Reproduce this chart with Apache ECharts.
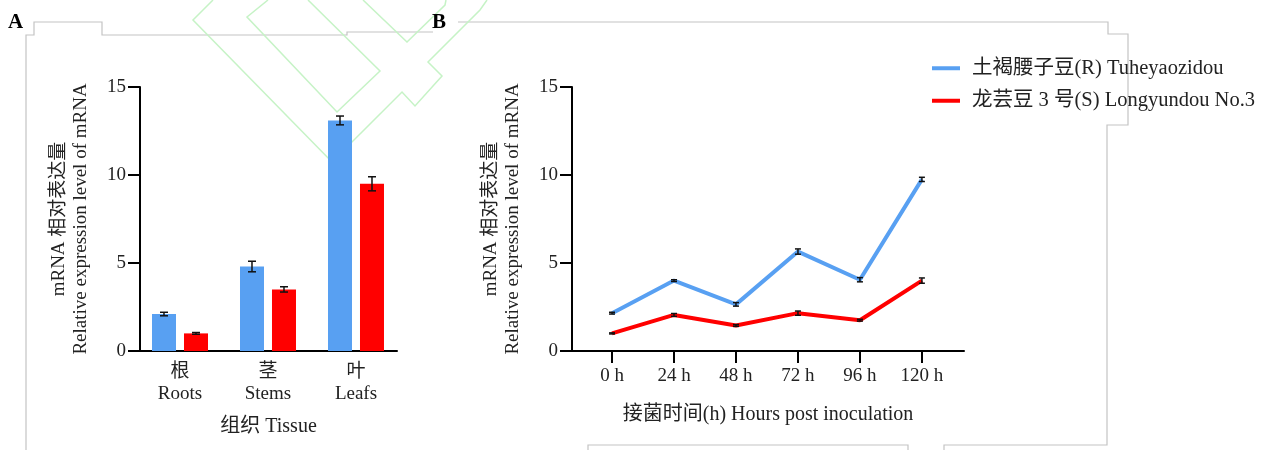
<!DOCTYPE html>
<html>
<head>
<meta charset="utf-8">
<script src="https://cdn.jsdelivr.net/npm/echarts@6/dist/echarts.min.js"></script>
<style>
  html, body { margin: 0; padding: 0; background: #fff; }
  #main { width: 1279px; height: 450px; }
</style>
</head>
<body>
<div id="main"></div>
<script>
// 组织 (A)
var tissues = ['根\nRoots', '茎\nStems', '叶\nLeafs'];
var barR = [2.1, 4.8, 13.1];
var barRErr = [0.1, 0.3, 0.25];
var barS = [1.0, 3.5, 9.5];
var barSErr = [0.05, 0.15, 0.4];

// 接菌时间 (B)
var hours = [0, 24, 48, 72, 96, 120];
var lineR = [2.15, 4.0, 2.65, 5.65, 4.05, 9.75];
var lineRErr = [0.05, 0.05, 0.1, 0.15, 0.12, 0.12];
var lineS = [1.0, 2.05, 1.45, 2.15, 1.75, 4.0];
var lineSErr = [0.03, 0.08, 0.05, 0.12, 0.05, 0.15];

var nameR = '土褐腰子豆(R) Tuheyaozidou';
var nameS = '龙芸豆 3 号(S) Longyundou No.3';

var blue = '#58a0f2';
var red = '#ff0000';
var font = '"Liberation Serif", "Noto Sans CJK SC", serif';
var txt = '#222';

var myChart = echarts.init(document.getElementById('main'));

function errBars(dx, half) {
  return function (params, api) {
    var x = api.value(0), y = api.value(1), e = api.value(2);
    var top = api.coord([x, y + e]);
    var bot = api.coord([x, y - e]);
    var cx = top[0] + dx;
    var st = { stroke: '#111', lineWidth: 1.5 };
    return {
      type: 'group',
      children: [
        { type: 'line', shape: { x1: cx, y1: top[1], x2: cx, y2: bot[1] }, style: st },
        { type: 'line', shape: { x1: cx - half, y1: top[1], x2: cx + half, y2: top[1] }, style: st },
        { type: 'line', shape: { x1: cx - half, y1: bot[1], x2: cx + half, y2: bot[1] }, style: st }
      ]
    };
  };
}

function yAx(gridIndex) {
  return {
    type: 'value', gridIndex: gridIndex, min: 0, max: 15, interval: 5,
    name: 'mRNA 相对表达量\nRelative expression level of mRNA',
    nameLocation: 'middle', nameGap: 48, nameRotate: 90,
    nameTextStyle: { fontFamily: font, fontSize: 19, color: txt, lineHeight: 22 },
    axisLine: { show: true, onZero: false, lineStyle: { color: '#000', width: 2 } },
    axisTick: { show: true, length: 12, lineStyle: { color: '#000', width: 2 } },
    axisLabel: { margin: 14, fontFamily: font, fontSize: 19, color: txt },
    splitLine: { show: false }
  };
}

var lineGray = { stroke: '#c4c4c4', lineWidth: 1.2, fill: null };
var lineGreen = { stroke: '#c6f3c6', lineWidth: 1.5, fill: null };

var option = {
  animation: false,
  backgroundColor: '#fff',
  grid: [
    { left: 140, top: 87, width: 257, height: 264 },
    { left: 572, top: 87, width: 392, height: 264 }
  ],
  legend: {
    data: [nameR, nameS],
    orient: 'vertical',
    left: 927, top: 53,
    icon: 'rect', itemWidth: 28, itemHeight: 4, itemGap: 12,
    textStyle: { fontFamily: font, fontSize: 20.5, color: txt, lineHeight: 20, padding: [0, 0, 0, 7] }
  },
  xAxis: [
    {
      type: 'value', gridIndex: 0, min: -0.4545, max: 2.466,
      name: '组织 Tissue', nameLocation: 'middle', nameGap: 66,
      nameTextStyle: { fontFamily: font, fontSize: 20, color: txt },
      axisLine: { show: true, onZero: false, lineStyle: { color: '#000', width: 2 } },
      axisTick: { show: false },
      axisLabel: {
        customValues: [0, 1, 2],
        formatter: function (v) { return tissues[Math.round(v)]; },
        margin: 10, fontFamily: font, fontSize: 19, color: txt, lineHeight: 22
      },
      splitLine: { show: false }
    },
    {
      type: 'value', gridIndex: 1, min: -15.5, max: 136.3,
      name: '接菌时间(h) Hours post inoculation', nameLocation: 'middle', nameGap: 54,
      nameTextStyle: { fontFamily: font, fontSize: 20, color: txt },
      axisLine: { show: true, onZero: false, lineStyle: { color: '#000', width: 2 } },
      axisTick: { show: true, customValues: hours, length: 12, lineStyle: { color: '#000', width: 2 } },
      axisLabel: {
        customValues: hours,
        formatter: function (v) { return v + ' h'; },
        margin: 16, fontFamily: font, fontSize: 19, color: txt
      },
      splitLine: { show: false }
    }
  ],
  yAxis: [yAx(0), yAx(1)],
  series: [
    {
      name: nameR, type: 'bar', xAxisIndex: 0, yAxisIndex: 0,
      barWidth: 24, barGap: '33.3%', itemStyle: { color: blue },
      data: barR.map(function (v, i) { return [i, v]; })
    },
    {
      name: nameS, type: 'bar', xAxisIndex: 0, yAxisIndex: 0,
      barWidth: 24, barGap: '33.3%', itemStyle: { color: red },
      data: barS.map(function (v, i) { return [i, v]; })
    },
    {
      type: 'custom', xAxisIndex: 0, yAxisIndex: 0, z: 5,
      renderItem: errBars(-16, 4), encode: { x: 0, y: 1 },
      data: barR.map(function (v, i) { return [i, v, barRErr[i]]; })
    },
    {
      type: 'custom', xAxisIndex: 0, yAxisIndex: 0, z: 5,
      renderItem: errBars(16, 4), encode: { x: 0, y: 1 },
      data: barS.map(function (v, i) { return [i, v, barSErr[i]]; })
    },
    {
      name: nameR, type: 'line', xAxisIndex: 1, yAxisIndex: 1,
      showSymbol: false, symbol: 'none', color: blue,
      lineStyle: { color: blue, width: 4 },
      data: hours.map(function (h, i) { return [h, lineR[i]]; })
    },
    {
      name: nameS, type: 'line', xAxisIndex: 1, yAxisIndex: 1,
      showSymbol: false, symbol: 'none', color: red,
      lineStyle: { color: red, width: 4 },
      data: hours.map(function (h, i) { return [h, lineS[i]]; })
    },
    {
      type: 'custom', xAxisIndex: 1, yAxisIndex: 1, z: 5,
      renderItem: errBars(0, 3), encode: { x: 0, y: 1 },
      data: hours.map(function (h, i) { return [h, lineR[i], lineRErr[i]]; })
    },
    {
      type: 'custom', xAxisIndex: 1, yAxisIndex: 1, z: 5,
      renderItem: errBars(0, 3), encode: { x: 0, y: 1 },
      data: hours.map(function (h, i) { return [h, lineS[i], lineSErr[i]]; })
    }
  ],
  graphic: [
    // panel letters
    { type: 'text', left: 8, top: 12, style: { text: 'A', font: 'bold 21px "Liberation Serif", serif', fill: '#000' } },
    { type: 'text', left: 432, top: 12, style: { text: 'B', font: 'bold 21px "Liberation Serif", serif', fill: '#000' } },
    // scanned page frame
    { type: 'polyline', silent: true, z: -10, shape: { points: [[26, 450], [26, 35], [34, 35], [34, 22], [102, 22], [102, 35], [347, 35], [347, 32], [433, 32]] }, style: lineGray },
    { type: 'polyline', silent: true, z: -10, shape: { points: [[458, 22], [1108, 22], [1108, 34], [1128, 34], [1128, 125], [1107, 125], [1107, 445], [944, 445], [944, 450]] }, style: lineGray },
    { type: 'polyline', silent: true, z: -10, shape: { points: [[588, 450], [588, 445], [908, 445], [908, 450]] }, style: lineGray },
    // watermark
    { type: 'polyline', silent: true, z: -10, shape: { points: [[213, 0], [193, 20], [332, 162], [402, 92], [415, 106], [442, 76], [428, 62], [480, 10], [487, 0]] }, style: lineGreen },
    { type: 'polyline', silent: true, z: -10, shape: { points: [[268, 0], [247, 17], [337, 112], [380, 71], [308, 0]] }, style: lineGreen },
    { type: 'polyline', silent: true, z: -10, shape: { points: [[363, 0], [407, 42], [445, 5], [446, 0]] }, style: lineGreen }
  ]
};

myChart.setOption(option);
</script>
</body>
</html>
